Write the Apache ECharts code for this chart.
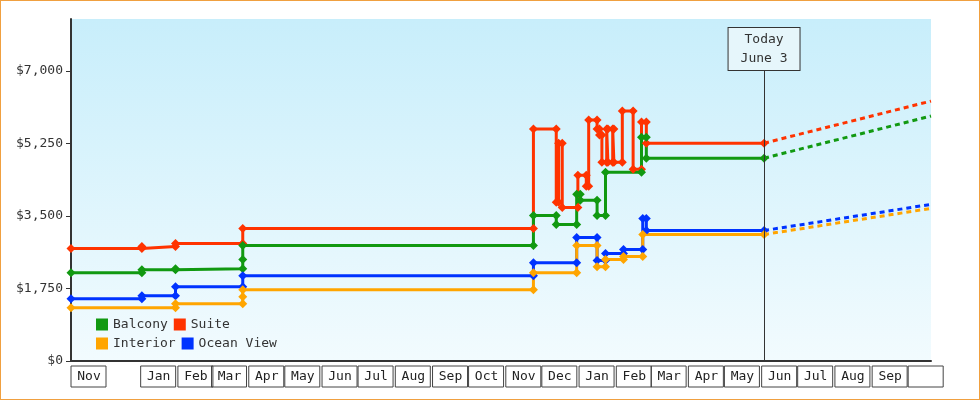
<!DOCTYPE html>
<html><head><meta charset="utf-8">
<script src="https://cdn.jsdelivr.net/npm/echarts@6/dist/echarts.min.js"></script>
<style>body{margin:0}#c{width:978px;height:398px;border:1px solid #f0a040;background:#fff}</style>
</head><body><div id="c"></div>
<script>
const suite = [['2022-11-04',2712],['2023-01-02',2712],['2023-01-02',2760],['2023-01-30',2760],['2023-01-30',2834],['2023-03-27',2834],['2023-03-27',3197],['2023-11-24',3197],['2023-11-24',5595],['2023-12-13',5595],['2023-12-13',3827],['2023-12-15',3827],['2023-12-15',5255],['2023-12-18',5255],['2023-12-18',3705],['2023-12-31',3705],['2023-12-31',4480],['2024-01-07',4480],['2024-01-07',4214],['2024-01-09',4214],['2024-01-09',5813],['2024-01-16',5813],['2024-01-16',5595],['2024-01-18',5595],['2024-01-18',5450],['2024-01-20',5450],['2024-01-20',4795],['2024-01-24',4795],['2024-01-24',5595],['2024-01-25',5595],['2024-01-25',4795],['2024-01-29',4795],['2024-01-29',5595],['2024-01-30',5595],['2024-01-30',4795],['2024-02-06',4795],['2024-02-06',6031],['2024-02-15',6031],['2024-02-15',4626],['2024-02-22',4626],['2024-02-22',5765],['2024-02-26',5765],['2024-02-26',5255],['2024-06-03',5255]];
const balcony = [['2022-11-04',2131],['2023-01-02',2131],['2023-01-02',2204],['2023-01-30',2204],['2023-01-30',2228],['2023-03-27',2228],['2023-03-27',2446],['2023-03-27',2785],['2023-11-24',2785],['2023-11-24',3512],['2023-12-13',3512],['2023-12-13',3294],['2023-12-30',3294],['2023-12-30',4020],['2024-01-02',4020],['2024-01-02',3875],['2024-01-16',3875],['2024-01-16',3512],['2024-01-23',3512],['2024-01-23',4553],['2024-02-22',4553],['2024-02-22',5400],['2024-02-26',5400],['2024-02-26',4892],['2024-06-03',4892]];
const ocean = [['2022-11-04',1502],['2023-01-02',1502],['2023-01-02',1574],['2023-01-30',1574],['2023-01-30',1792],['2023-03-27',1792],['2023-03-27',2059],['2023-11-24',2059],['2023-11-24',2373],['2023-12-30',2373],['2023-12-30',2979],['2024-01-16',2979],['2024-01-16',2422],['2024-01-23',2422],['2024-01-23',2591],['2024-02-07',2591],['2024-02-07',2688],['2024-02-23',2688],['2024-02-23',3439],['2024-02-26',3439],['2024-02-26',3148],['2024-06-03',3148]];
const interior = [['2022-11-04',1284],['2023-01-30',1284],['2023-01-30',1380],['2023-03-27',1380],['2023-03-27',1550],['2023-03-27',1720],['2023-11-24',1720],['2023-11-24',2131],['2023-12-30',2131],['2023-12-30',2785],['2024-01-16',2785],['2024-01-16',2276],['2024-01-23',2276],['2024-01-23',2446],['2024-02-07',2446],['2024-02-07',2518],['2024-02-23',2518],['2024-02-23',3052],['2024-06-03',3052]];
const forecastSuite = [['2024-06-03',5255],['2024-10-20',6270]];
const forecastBalcony = [['2024-06-03',4892],['2024-10-20',5909]];
const forecastOcean = [['2024-06-03',3148],['2024-10-20',3778]];
const forecastInterior = [['2024-06-03',3052],['2024-10-20',3681]];
const yTicks = [0,1750,3500,5250,7000];
const months = ['Jan','Feb','Mar','Apr','May','Jun','Jul','Aug','Sep','Oct','Nov','Dec'];

const C = {Balcony:'#119911',Suite:'#ff3300',Interior:'#ffa500','Ocean View':'#0033ff'};
const font = 'DejaVu Sans Mono';
function s(name,data){return {name,type:'line',data,color:C[name],symbol:'diamond',symbolSize:9,lineStyle:{width:3},z:3};}
function f(name,data){return {name:name+'f',type:'line',data,color:C[name],symbol:'none',lineStyle:{width:3,type:[5,4]}};}
const chart = echarts.init(document.getElementById('c'));
chart.setOption({
  animation:false,
  textStyle:{fontFamily:font},
  grid:{left:70,right:48,top:18,bottom:38,show:true,borderWidth:0,
    backgroundColor:new echarts.graphic.LinearGradient(0,0,0,1,[{offset:0,color:'#c8eefb'},{offset:1,color:'#f2fbfe'}])},
  legend:{data:['Balcony','Suite','Interior','Ocean View'],left:90,top:312,width:200,itemWidth:12,itemHeight:12,itemGap:6,icon:'rect',
    textStyle:{fontFamily:font,fontSize:13,color:'#333',padding:[0,10,0,0]}},
  xAxis:{type:'time',min:'2022-11-04',max:'2024-10-20',minInterval:28*864e5,maxInterval:31*864e5,
    axisLine:{lineStyle:{color:'#333',width:2}},axisTick:{show:false},splitLine:{show:false},
    axisLabel:{showMinLabel:true,showMaxLabel:false,hideOverlap:false,align:'left',margin:5,
      formatter:v=>{const d=new Date(v);const t=(d.getFullYear()===2024&&d.getMonth()===9)?' ':months[d.getMonth()];return '{b|'+t+'}';},
      rich:{b:{fontFamily:font,fontSize:13,color:'#222',borderColor:'#444',borderWidth:1,width:30,height:17,padding:[2,2,2,3],align:'center'}}}},
  yAxis:{type:'value',min:0,max:8250,interval:1750,
    axisLine:{show:true,lineStyle:{color:'#333',width:2}},axisTick:{show:true,length:5,lineStyle:{color:'#333'}},splitLine:{show:false},
    axisLabel:{fontFamily:font,fontSize:13,color:'#333',showMaxLabel:false,formatter:v=>yTicks.includes(v)?'$'+v.toLocaleString('en-US'):''}},
  series:[
    s('Suite',suite),s('Balcony',balcony),s('Ocean View',ocean),s('Interior',interior),
    f('Suite',forecastSuite),f('Balcony',forecastBalcony),f('Ocean View',forecastOcean),f('Interior',forecastInterior),
    {type:'line',name:'today',data:[],markLine:{symbol:'none',silent:true,
      lineStyle:{color:'#333',width:1,type:'solid'},
      label:{show:true,position:'end',formatter:'Today\nJune 3',fontFamily:font,fontSize:13,color:'#333',lineHeight:19,
        backgroundColor:'#e6f6fb',borderColor:'#333',borderWidth:1,padding:[2,12,2,12],distance:-24},
      data:[[{coord:['2024-06-03',0]},{coord:['2024-06-03',7600]}]]}}
  ]
});
</script></body></html>
